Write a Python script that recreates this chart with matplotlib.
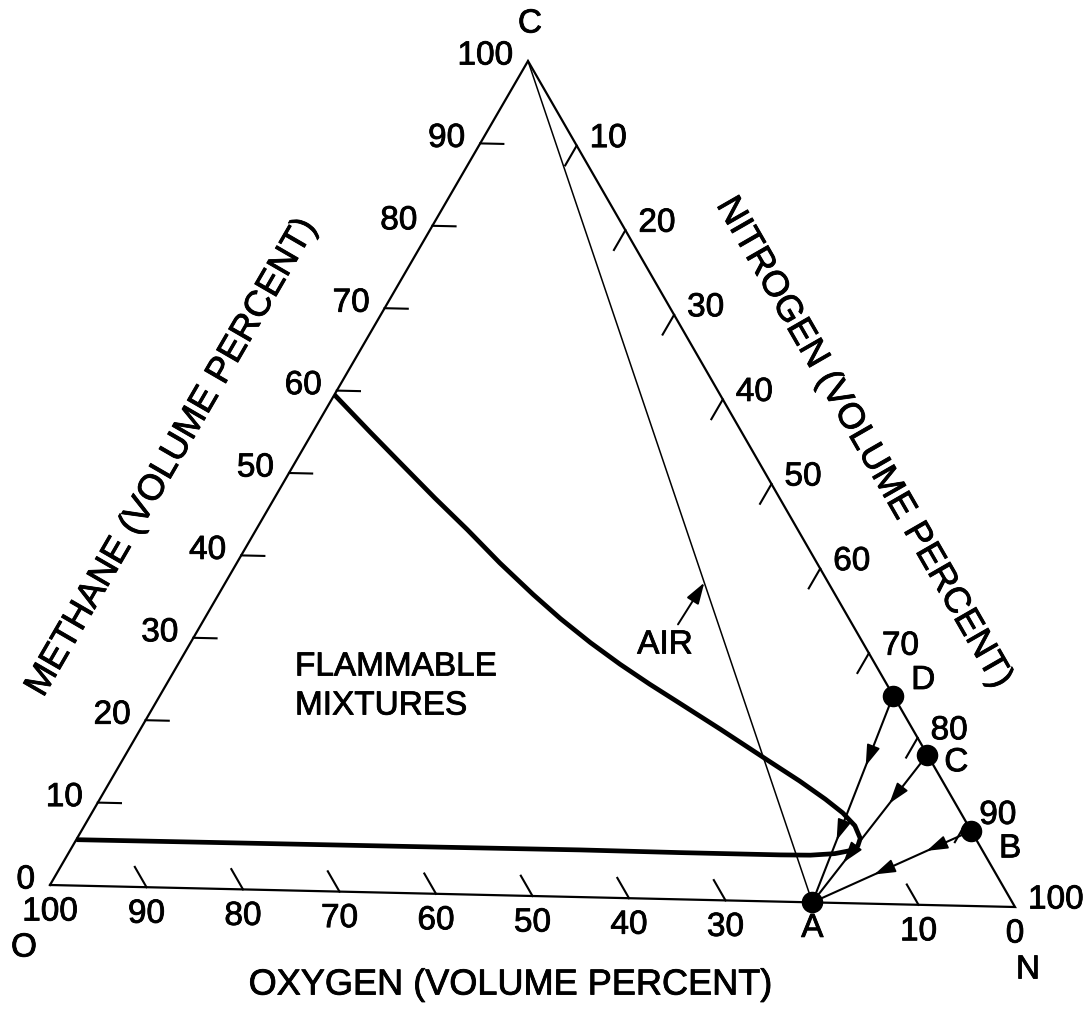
import matplotlib
matplotlib.use("Agg")
import matplotlib.pyplot as plt
import matplotlib.patheffects as pe
import numpy as np

plt.rcParams['font.family'] = ['Liberation Sans', 'DejaVu Sans']

# ---------------- data (volume percent) ----------------
# flammability envelope (from UFL in O2 down to the nose and back to LFL)
curve_n2 = [0, 5.9, 10.8, 16.4, 21.6, 26.9, 32.2, 36.4, 40.9, 45.2, 49.4, 53.6, 59.3, 66.0,
            70.5, 74.2, 76.8, 78.8, 80.1, 80.3, 79.8, 78.4, 76.0, 72.9, 62.5, 52.1, 37.7, 16.9, 0]
curve_ch4 = [59.5, 55.1, 51.5, 47.4, 43.7, 39.8, 36.1, 33.3, 30.5, 28.0, 25.7, 23.5, 20.5, 16.9,
             14.5, 12.4, 10.8, 9.3, 7.8, 6.9, 6.3, 5.9, 5.65, 5.6, 5.6, 5.65, 5.6, 5.55, 5.5]

# labelled points
point_names = ['A', 'B', 'C', 'D']
point_o2 = [21, 0, 0, 0]
point_n2 = [79, 91, 82, 75]
point_ch4 = [0, 9, 18, 25]

# air line: pure methane vertex to air
air_start = (0, 0, 100)   # (O2, N2, CH4)
air_end = (21, 79, 0)

# axis ticks
oxygen_ticks = [90, 80, 70, 60, 50, 40, 30, 10]
oxygen_labels = [100, 90, 80, 70, 60, 50, 40, 30, 10, 0]
methane_ticks = [10, 20, 30, 40, 50, 60, 70, 80, 90]
methane_labels = [0, 10, 20, 30, 40, 50, 60, 70, 80, 90, 100]
nitrogen_ticks = [10, 20, 30, 40, 50, 60, 70, 80, 90]
nitrogen_labels = [10, 20, 30, 40, 50, 60, 70, 80, 90, 100]

# ---------------- layout ----------------
W, H = 1086, 1014
VO = (50.0, 885.0)    # oxygen vertex (page position)
VN = (1015.0, 907.0)  # nitrogen vertex
VC = (528.0, 61.0)    # methane vertex


def tern(o2, n2, ch4):
    s = o2 + n2 + ch4
    x = (o2 * VO[0] + n2 * VN[0] + ch4 * VC[0]) / s
    y = (o2 * VO[1] + n2 * VN[1] + ch4 * VC[1]) / s
    return x, y


fig = plt.figure(figsize=(W / 100, H / 100), dpi=100)
ax = fig.add_axes([0, 0, 1, 1])
ax.set_xlim(0, W)
ax.set_ylim(H, 0)
ax.axis('off')

k = 'black'
FS = 24
FT = 26
PE = [pe.withStroke(linewidth=0.6, foreground='black')]


def txt(x, y, s, **kw):
    kw.setdefault('fontsize', FS)
    return ax.text(x, y, s, path_effects=PE, **kw)


# triangle
tri = [tern(100, 0, 0), tern(0, 100, 0), tern(0, 0, 100), tern(100, 0, 0)]
ax.plot([p[0] for p in tri], [p[1] for p in tri], color=k, lw=1.6, solid_joinstyle='miter')

tl = 2.4
for v in oxygen_ticks:
    a = tern(v, 100 - v, 0)
    b = tern(v, 100 - v - tl, tl)
    ax.plot([a[0], b[0]], [a[1], b[1]], color=k, lw=1.5)
for v in methane_ticks:
    a = tern(100 - v, 0, v)
    b = tern(100 - v - tl, tl, v)
    ax.plot([a[0], b[0]], [a[1], b[1]], color=k, lw=1.5)
for v in nitrogen_ticks:
    a = tern(0, v, 100 - v)
    b = tern(tl, v, 100 - v - tl)
    ax.plot([a[0], b[0]], [a[1], b[1]], color=k, lw=1.5)

# tick labels
for v in oxygen_labels:
    x, y = tern(v, 100 - v, 0)
    txt(x, y + 27, str(v), ha='center', va='center')
for v in methane_labels:
    x, y = tern(100 - v, 0, v)
    txt(x - 15, y - 5, str(v), ha='right', va='center')
for v in nitrogen_labels:
    x, y = tern(0, v, 100 - v)
    txt(x + 13, y - 7, str(v), ha='left', va='center')

# vertex letters
xo, yo = tern(100, 0, 0)
txt(xo - 26, yo + 63, 'O', ha='center', va='center')
xn, yn = tern(0, 100, 0)
txt(xn + 13, yn + 63, 'N', ha='center', va='center')
xc, yc = tern(0, 0, 100)
txt(xc + 2, yc - 37, 'C', ha='center', va='center')

# axis titles
txt(511, 985, 'OXYGEN (VOLUME PERCENT)', ha='center', va='center', fontsize=FT)
txt(172, 457, 'METHANE (VOLUME PERCENT)', ha='center', va='center', fontsize=FT,
    rotation=59.9, rotation_mode='anchor')
txt(864, 443, 'NITROGEN (VOLUME PERCENT)', ha='center', va='center', fontsize=FT,
    rotation=-60.1, rotation_mode='anchor')

# air line
a0 = tern(*air_start)
a1 = tern(*air_end)
ax.plot([a0[0], a1[0]], [a0[1], a1[1]], color=k, lw=1.1)

# flammability envelope
cx, cy = [], []
for n, c in zip(curve_n2, curve_ch4):
    x, y = tern(100 - n - c, n, c)
    cx.append(x)
    cy.append(y)
ax.plot(cx, cy, color=k, lw=3.4, solid_capstyle='butt', solid_joinstyle='round')

# inerting paths B, C, D -> A with arrowheads
AST = '-|>,head_length=1.3,head_width=0.42'
pA = tern(point_o2[0], point_n2[0], point_ch4[0])
arrow_fracs = {'B': [0.28, 0.61], 'C': [0.33, 0.73], 'D': [0.34, 0.70]}
for i in range(1, 4):
    p = tern(point_o2[i], point_n2[i], point_ch4[i])
    ax.plot([p[0], pA[0]], [p[1], pA[1]], color=k, lw=1.5)
    for f in arrow_fracs[point_names[i]]:
        tip = (p[0] + f * (pA[0] - p[0]), p[1] + f * (pA[1] - p[1]))
        tail = (p[0] + (f - 0.08) * (pA[0] - p[0]), p[1] + (f - 0.08) * (pA[1] - p[1]))
        ax.annotate('', xy=tip, xytext=tail,
                    arrowprops=dict(arrowstyle=AST, color=k, lw=1.2,
                                    shrinkA=0, shrinkB=0, mutation_scale=10))

# points
px = []
py = []
for i in range(4):
    x, y = tern(point_o2[i], point_n2[i], point_ch4[i])
    px.append(x)
    py.append(y)
ax.plot(px, py, 'o', color=k, markersize=14.5, zorder=5)
label_off = {'A': (0, 26), 'B': (39, 18), 'C': (29, 8), 'D': (30, -15)}
for i, name in enumerate(point_names):
    dx, dy = label_off[name]
    txt(px[i] + dx, py[i] + dy, name, ha='center', va='center')

# AIR annotation
f_air = 0.62
tip = (a0[0] + f_air * (a1[0] - a0[0]), a0[1] + f_air * (a1[1] - a0[1]))
ax.annotate('AIR', xy=tip, xytext=(665, 645), ha='center', va='center', fontsize=FS,
            path_effects=PE,
            arrowprops=dict(arrowstyle=AST, color=k, lw=1.4, shrinkA=2, shrinkB=0,
                            mutation_scale=10))

# region label
txt(295, 667, 'FLAMMABLE', ha='left', va='center')
txt(295, 706, 'MIXTURES', ha='left', va='center')

fig.savefig('out.png', dpi=100)
